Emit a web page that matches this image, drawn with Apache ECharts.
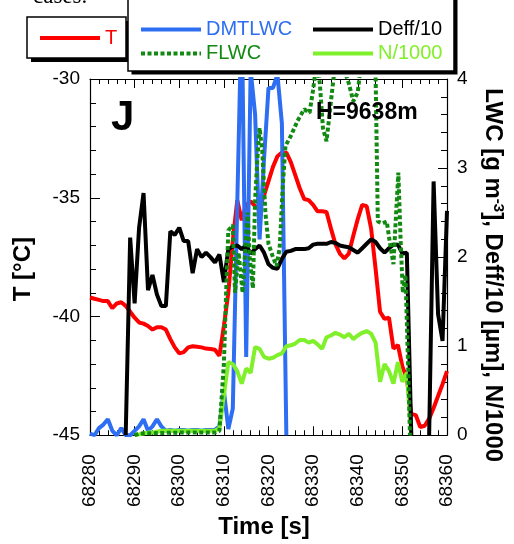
<!DOCTYPE html>
<html>
<head>
<meta charset="utf-8">
<script src="https://cdn.jsdelivr.net/npm/echarts@6/dist/echarts.min.js"></script>
<style>
html,body{margin:0;padding:0;background:#fff;}
#c{width:514px;height:544px;}
</style>
</head>
<body>
<div id="c"></div>
<script>
// ---- data ----
const times = [68280,68281,68282,68283,68284,68285,68286,68287,68288,68289,
  68290,68291,68292,68293,68294,68295,68296,68297,68298,68299,
  68300,68301,68302,68303,68304,68305,68306,68307,68308,68309,
  68310,68311,68312,68313,68314,68315,68316,68317,68318,68319,
  68320,68321,68322,68323,68324,68325,68326,68327,68328,68329,
  68330,68331,68332,68333,68334,68335,68336,68337,68338,68339,
  68340,68341,68342,68343,68344,68345,68346,68347,68348,68349,
  68350,68351,68352,68353,68354,68355,68356,68357,68358,68359,68360];

const tempT = [-39.2,-39.25,-39.3,-39.35,-39.35,-39.65,-39.45,-39.4,-39.55,-39.8,
  -40.05,-40.25,-40.3,-40.4,-40.55,-40.45,-40.45,-40.55,-40.95,-41.3,
  -41.55,-41.5,-41.3,-41.25,-41.27,-41.3,-41.35,-41.37,-41.4,-41.65,
  -40.4,-39.0,-36.8,-35.1,-35.95,-35.3,-35.15,-35.35,-35.4,-34.9,
  -34.3,-33.7,-33.25,-33.1,-33.1,-33.5,-34.05,-34.6,-35.05,-35.1,
  -35.3,-35.57,-35.57,-35.6,-36.3,-36.95,-37.35,-37.55,-37.35,-36.6,
  -35.9,-35.3,-35.35,-36.3,-38.0,-39.8,-40.1,-40.05,-41.35,-41.2,
  -42.1,-42.6,-44.1,-44.15,-44.65,-44.6,-44.3,-43.85,-43.35,-42.85,-42.3];

const dmtlwc = [0.02,0.0,0.08,0.12,0.18,0.05,0.0,0.08,0.0,0.0,
  0.05,0.1,0.18,0.05,0.1,0.18,0.1,0.05,0.06,0.05,
  0.06,0.06,0.05,0.06,0.06,0.05,0.06,0.06,0.06,0.1,
  0.5,0.07,0.3,2.6,4.8,0.88,4.1,3.6,2.2,3.1,
  3.9,3.9,4.05,3.5,0.0,null,null,null,null,null,
  null,null,null,null,null,null,null,null,null,null,
  null,null,null,null,null,null,null,null,null,null,
  null,null,null,null,null,null,null,null,null,null,null];

const deff10 = [null,null,null,null,null,null,null,null,0.0,2.22,
  1.48,2.33,2.72,1.63,1.8,1.58,1.45,1.45,2.29,2.25,
  2.33,2.18,2.18,1.82,2.09,2.0,2.05,2.0,1.94,2.03,
  1.72,2.09,2.12,2.13,2.09,2.13,2.04,2.09,2.13,2.05,
  1.92,1.88,1.87,1.98,2.06,2.07,2.09,2.09,2.09,2.1,
  2.14,2.15,2.15,2.15,2.17,2.16,2.13,2.12,2.11,2.08,
  2.05,2.1,2.15,2.2,2.17,2.1,2.05,2.1,2.14,2.14,
  2.04,2.05,0.0,null,null,null,0.0,2.85,1.36,1.06,2.52];

const n1000 = [null,null,null,null,null,null,null,null,null,null,
  0.0,0.01,0.02,0.03,0.03,0.04,0.05,0.05,0.05,0.05,
  0.05,0.05,0.05,0.05,0.05,0.05,0.05,0.05,0.05,0.08,
  0.45,0.82,0.8,0.72,0.58,0.75,0.7,0.99,0.97,0.88,
  0.86,0.87,0.9,0.92,1.0,1.01,1.03,1.07,1.07,1.04,
  1.06,1.02,0.97,1.1,1.12,1.15,1.13,1.1,1.14,1.08,
  1.12,1.15,1.17,1.14,1.04,0.6,0.8,0.72,0.58,0.82,
  0.6,0.7,0.0,null,null,null,null,null,null,null,null];

const flwcTimes = [68290,68291,68300,68308,68309,68310,68310.5,68311,68312,68312.5,
  68313.3,68314.2,68315.3,68315.8,68316.5,68317,68317.5,68318,68318.6,68319.3,
  68320,68321,68321.8,68322.5,68323.2,68323.8,68325,68326.5,68328,68329.2,
  68330,68330.8,68331.5,68332.2,68333,68334,68335,68336,68337,68338,
  68339,68340,68341,68342,68343,68344,68344.5,68345.5,68346.5,68347.3,
  68348,68348.5,68349.1,68349.6,68350.1,68350.7,68351.3,68351.7];
const flwcValues = [0.0,0.02,0.03,0.03,0.05,0.8,1.6,2.3,2.36,1.6,
  2.05,1.6,2.5,2.0,1.65,2.64,3.1,3.45,3.2,2.5,
  2.15,2.0,1.9,2.1,2.8,3.25,3.36,3.53,3.66,3.62,
  3.88,4.2,3.95,3.45,3.3,3.75,4.2,4.3,4.1,3.95,
  3.75,3.85,4.3,4.4,4.3,4.05,2.4,2.38,2.4,2.13,
  1.92,2.4,2.95,2.2,1.6,1.8,0.75,0.0];

const xTicks = {min: 68280, max: 68360, step: 10};
const tTicks = {min: -45, max: -30, step: 5};
const lwcTicks = {min: 0, max: 4, step: 1};

// ---- build ----
const zip = (xs, ys) => xs.map((x, i) => [x, ys[i]]);
const FONT = 'Liberation Sans, Arial, Helvetica, sans-serif';
const BLACK = '#000';
const LW = 4;

function xAxisCfg(pos, labels) {
  return {
    type: 'value', position: pos, min: xTicks.min, max: xTicks.max, interval: xTicks.step,
    axisLine: {show: true, onZero: false, lineStyle: {color: BLACK, width: 1.2}},
    axisTick: {show: true, inside: true, length: 9, lineStyle: {color: BLACK, width: 1}},
    minorTick: {show: true, splitNumber: 5, length: 5, lineStyle: {color: BLACK, width: 1}},
    splitLine: {show: false},
    axisLabel: {show: labels, rotate: 90, margin: 19, fontSize: 19, color: BLACK, fontFamily: FONT,
      formatter: v => String(v)}
  };
}

const xBottom = xAxisCfg('bottom', true);
xBottom.name = 'Time [s]';
xBottom.nameLocation = 'middle';
xBottom.nameGap = 79;
xBottom.nameTextStyle = {fontSize: 24, fontWeight: 'bold', color: BLACK, fontFamily: FONT, padding: [0, 9, 0, 0]};
const xTop = xAxisCfg('top', false);

const legendCommon = {
  padding: 0, itemWidth: 60, itemHeight: 14, itemGap: 4,
  selectedMode: false, z: 10, lineStyle: {width: 4},
  itemStyle: {opacity: 0, borderWidth: 0},
  textStyle: {fontSize: 20, fontFamily: FONT}
};

const option = {
  animation: false,
  backgroundColor: '#fff',
  textStyle: {fontFamily: FONT},
  grid: {left: 90, right: 59, top: 79, bottom: 101, containLabel: false},
  xAxis: [xBottom, xTop],
  yAxis: [
    {
      type: 'value', position: 'left', min: tTicks.min, max: tTicks.max, interval: tTicks.step,
      axisLine: {show: true, onZero: false, lineStyle: {color: BLACK, width: 1.2}},
      axisTick: {show: true, inside: true, length: 10, lineStyle: {color: BLACK}},
      minorTick: {show: true, splitNumber: 5, length: 6, lineStyle: {color: BLACK}},
      splitLine: {show: false},
      axisLabel: {margin: 10, fontSize: 19, color: BLACK, fontFamily: FONT, formatter: v => String(v)},
      name: 'T [°C]', nameLocation: 'middle', nameGap: 55, nameRotate: 90,
      nameTextStyle: {fontSize: 24, fontWeight: 'bold', color: BLACK, fontFamily: FONT, padding: [0, 24, 0, 0]}
    },
    {
      type: 'value', position: 'right', min: lwcTicks.min, max: lwcTicks.max, interval: lwcTicks.step,
      axisLine: {show: true, onZero: false, lineStyle: {color: BLACK, width: 1.2}},
      axisTick: {show: true, inside: true, length: 9, lineStyle: {color: BLACK}},
      minorTick: {show: true, splitNumber: 5, length: 6, lineStyle: {color: BLACK}},
      splitLine: {show: false},
      axisLabel: {margin: 10, fontSize: 19, color: BLACK, fontFamily: FONT, formatter: v => String(v)},
      name: '{n|LWC [g m}{s|-3}{n|], Deff/10 [µm], N/1000}',
      nameLocation: 'middle', nameGap: 33, nameRotate: -90,
      nameTextStyle: {
        color: BLACK, fontFamily: FONT, padding: [0, 0, 0, 36],
        rich: {
          n: {fontSize: 24, fontWeight: 'bold', color: BLACK, fontFamily: FONT, lineHeight: 26},
          s: {fontSize: 15, fontWeight: 'bold', color: BLACK, fontFamily: FONT, verticalAlign: 'top', lineHeight: 26, padding: [0, 0, 10, 0]}
        }
      }
    }
  ],
  legend: [
    Object.assign({}, legendCommon, {
      data: [{name: 'T', textStyle: {color: '#ff0000'}}],
      left: 38, top: 28
    }),
    Object.assign({}, legendCommon, {
      data: [{name: 'DMTLWC', textStyle: {color: '#2e6ef2'}}, {name: 'FLWC', textStyle: {color: '#128a12'}}],
      orient: 'vertical', left: 139, top: 19.5
    }),
    Object.assign({}, legendCommon, {
      data: [{name: 'Deff/10', textStyle: {color: '#000'}}, {name: 'N/1000', textStyle: {color: '#80f02a'}}],
      orient: 'vertical', left: 311, top: 19.5
    })
  ],
  graphic: [
    {type: 'rect', z: 0, shape: {x: 31, y: 21, width: 99, height: 41}, style: {fill: '#000'}},
    {type: 'rect', z: 1, shape: {x: 27, y: 17, width: 99, height: 41}, style: {fill: '#fff', stroke: '#000', lineWidth: 1.5}},
    {type: 'rect', z: 2, shape: {x: 131.5, y: -10, width: 326, height: 84.5}, style: {fill: '#000'}},
    {type: 'rect', z: 3, shape: {x: 128, y: -10, width: 326, height: 81}, style: {fill: '#fff', stroke: '#000', lineWidth: 1.5}},
    {type: 'text', z: 20, x: 111, y: 118, style: {text: 'J', font: 'bold 42px ' + FONT, fill: '#000', verticalAlign: 'middle'}},
    {type: 'text', z: 20, x: 316, y: 113, style: {text: 'H=9638m', font: 'bold 23px ' + FONT, fill: '#000', verticalAlign: 'middle'}},
    {type: 'text', z: 20, x: 33, y: -3, style: {text: 'cases.', font: '23px "Liberation Serif", "Times New Roman", serif', fill: '#000', verticalAlign: 'middle'}}
  ],
  series: [
    {name: 'T', type: 'line', xAxisIndex: 0, yAxisIndex: 0, data: zip(times, tempT),
      symbol: 'none', showSymbol: false, clip: true, z: 2,
      lineStyle: {color: '#ff0000', width: LW}, itemStyle: {color: '#ff0000'}},
    {name: 'DMTLWC', type: 'line', xAxisIndex: 0, yAxisIndex: 1, data: zip(times, dmtlwc),
      symbol: 'none', showSymbol: false, clip: true, z: 3, connectNulls: false,
      lineStyle: {color: '#2e6ef2', width: LW}, itemStyle: {color: '#2e6ef2'}},
    {name: 'N/1000', type: 'line', xAxisIndex: 0, yAxisIndex: 1, data: zip(times, n1000),
      symbol: 'none', showSymbol: false, clip: true, z: 4, connectNulls: false,
      lineStyle: {color: '#80f02a', width: LW}, itemStyle: {color: '#80f02a'}},
    {name: 'Deff/10', type: 'line', xAxisIndex: 0, yAxisIndex: 1, data: zip(times, deff10),
      symbol: 'none', showSymbol: false, clip: true, z: 5, connectNulls: false,
      lineStyle: {color: '#000000', width: LW}, itemStyle: {color: '#000000'}},
    {name: 'FLWC', type: 'line', xAxisIndex: 0, yAxisIndex: 1, data: zip(flwcTimes, flwcValues),
      symbol: 'none', showSymbol: false, clip: true, z: 6,
      lineStyle: {color: '#128a12', width: LW, type: [4, 2.5]}, itemStyle: {color: '#128a12'}}
  ]
};

const chart = echarts.init(document.getElementById('c'), null, {renderer: 'canvas'});
chart.setOption(option);
</script>
</body>
</html>
